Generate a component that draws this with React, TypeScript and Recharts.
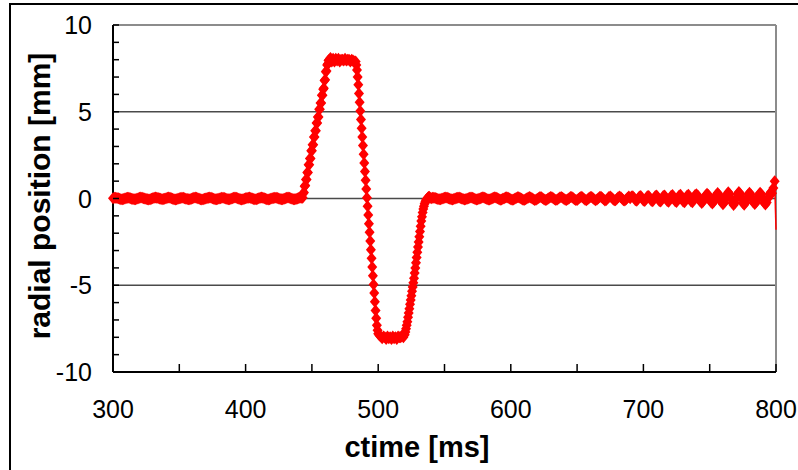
import { ScatterChart, Scatter, XAxis, YAxis, ReferenceLine, Label } from "recharts";

// sampled radial position, grouped by segment of the trace (start time, sample step in ms)
const leadStart = 300;
const leadStep = 1;
const leadValues = [
  0.02, 0.04, 0.05, 0.03, 0.01, -0.02, -0.04, -0.05, -0.03, 0.0,
  0.03, 0.05, 0.04, 0.02, -0.01, -0.03, -0.05, -0.04, -0.02, 0.01,
  0.04, 0.06, 0.05, 0.02, 0.0, -0.03, -0.05, -0.06, -0.04, -0.01,
  0.02, 0.04, 0.06, 0.05, 0.03, 0.0, -0.02, -0.04, -0.03, -0.01,
  0.02, 0.05, 0.06, 0.04, 0.01, -0.02, -0.05, -0.06, -0.04, -0.01,
  0.01, 0.03, 0.05, 0.04, 0.02, -0.01, -0.03, -0.05, -0.04, -0.02,
  0.01, 0.04, 0.06, 0.05, 0.02, -0.01, -0.04, -0.06, -0.05, -0.02,
  0.0, 0.03, 0.05, 0.06, 0.04, 0.01, -0.02, -0.04, -0.05, -0.03,
  0.0, 0.02, 0.04, 0.05, 0.03, 0.0, -0.03, -0.05, -0.04, -0.02,
  0.01, 0.04, 0.06, 0.04, 0.02, -0.01, -0.04, -0.06, -0.05, -0.02,
  0.01, 0.03, 0.05, 0.06, 0.03, 0.0, -0.03, -0.05, -0.04, -0.01,
  0.02, 0.05, 0.06, 0.04, 0.01, -0.02, -0.04, -0.06, -0.04, -0.02,
  0.01, 0.03, 0.05, 0.05, 0.03, 0.0, -0.03, -0.05, -0.05, -0.02,
  0.01, 0.04, 0.06, 0.04, 0.02, -0.01, -0.04, -0.05, -0.03, 0.0,
  0.03, 0.05, 0.04,
];

const riseStart = 443;
const riseStep = 0.5;
const riseValues = [
  0.05, 0.3, 0.35, 0.7, 0.75, 1.1, 1.1, 1.5,
  1.5, 1.95, 1.95, 2.3, 2.3, 2.75, 2.75, 3.1,
  3.1, 3.55, 3.55, 3.9, 3.9, 4.35, 4.35, 4.7,
  4.7, 5.15, 5.15, 5.5, 5.5, 5.95, 5.95, 6.3,
  6.35, 6.8, 6.85, 7.3, 7.35, 7.7, 7.75, 7.95,
  8.0,
];

const topStart = 464;
const topStep = 1;
const topValues = [
  8.1, 7.9, 8.05, 7.9, 8.05, 7.95, 8.05, 7.9, 8.0, 8.0,
  7.95, 8.05, 7.95, 8.0, 8.0, 7.9, 8.0, 7.95, 7.9,
];

const fallStart = 483;
const fallStep = 0.5;
const fallValues = [
  7.9, 7.7, 7.4, 7.0, 6.55, 6.05, 5.55, 5.05,
  4.55, 4.05, 3.55, 3.05, 2.55, 2.05, 1.55, 1.05,
  0.55, 0.05, -0.45, -0.95, -1.45, -1.95, -2.45, -2.95,
  -3.45, -3.95, -4.45, -4.95, -5.45, -5.95, -6.45, -6.9,
  -7.3, -7.6, -7.8,
];

const bottomStart = 501;
const bottomStep = 1;
const bottomValues = [
  -7.9, -7.95, -8.05, -7.95, -8.0, -8.1, -7.95, -8.05, -8.0, -8.1,
  -7.95, -8.05, -8.0, -8.1, -7.95, -8.0, -8.0, -7.9, -8.0, -7.85,
];

const returnStart = 520.5;
const returnStep = 0.5;
const returnValues = [
  -7.7, -7.5, -7.3, -7.1, -6.85, -6.6, -6.35, -6.1,
  -5.85, -5.6, -5.35, -5.1, -4.85, -4.6, -4.3, -4.0,
  -3.7, -3.4, -3.1, -2.8, -2.5, -2.2, -1.9, -1.6,
  -1.3, -1.05, -0.8, -0.6, -0.45, -0.3, -0.2, -0.1,
  -0.05, 0.0, 0.05, 0.08, 0.1, 0.05,
];

// baseline after the pulse; the ripple grows toward the end of the record
const tailStart = 540;
const tailStep = 1;
const tailValues = [
  0.02, 0.04, 0.05, 0.03, 0.0, -0.03, -0.05, -0.04, -0.02, 0.01,
  0.04, 0.06, 0.04, 0.01, -0.02, -0.05, -0.06, -0.03, 0.0, 0.03,
  0.05, 0.06, 0.03, 0.0, -0.03, -0.06, -0.05, -0.02, 0.02, 0.05,
  0.06, 0.04, 0.01, -0.03, -0.06, -0.05, -0.02, 0.02, 0.05, 0.07,
  0.05, 0.01, -0.03, -0.06, -0.06, -0.03, 0.01, 0.05, 0.07, 0.05,
  0.01, -0.03, -0.07, -0.06, -0.02, 0.02, 0.06, 0.07, 0.04, 0.0,
  -0.04, -0.07, -0.06, -0.02, 0.03, 0.07, 0.07, 0.03, -0.02, -0.06,
  -0.08, -0.05, 0.0, 0.05, 0.08, 0.06, 0.01, -0.04, -0.08, -0.07,
  -0.02, 0.03, 0.08, 0.07, 0.02, -0.04, -0.08, -0.07, -0.02, 0.04,
  0.08, 0.07, 0.01, -0.05, -0.09, -0.06, 0.0, 0.06, 0.09, 0.05,
  -0.01, -0.07, -0.09, -0.05, 0.02, 0.08, 0.09, 0.03, -0.04, -0.09,
  -0.08, -0.02, 0.05, 0.1, 0.07, 0.0, -0.07, -0.1, -0.05, 0.03,
  0.09, 0.09, 0.02, -0.06, -0.1, -0.06, 0.02, 0.09, 0.1, 0.03,
  -0.05, -0.11, -0.08, 0.0, 0.08, 0.11, 0.06, -0.03, -0.1, -0.1,
  -0.02, 0.07, 0.12, 0.07, -0.02, -0.1, -0.12, -0.05, 0.05, 0.12,
  0.02, 0.11, 0.13, 0.03, -0.1, -0.13, -0.02, 0.12, 0.14, 0.02,
  -0.12, -0.15, -0.03, 0.13, 0.15, 0.03, -0.13, -0.16, -0.02, 0.14,
  0.17, 0.04, -0.14, -0.17, -0.03, 0.15, 0.18, 0.03, -0.15, -0.19,
  -0.04, 0.16, 0.2, 0.04, -0.16, -0.2, -0.03, 0.17, 0.21, 0.03,
  -0.18, -0.21, -0.04, 0.18, 0.22, 0.04, -0.18, -0.22, -0.03, 0.2,
  0.24, 0.18, 0.0, -0.18, -0.26, -0.18, 0.01, 0.19, 0.27, 0.2,
  0.0, -0.2, -0.29, -0.2, 0.02, 0.22, 0.31, 0.22, 0.0, -0.22,
  -0.33, -0.23, 0.01, 0.25, 0.36, 0.26, 0.02, -0.25, -0.37, -0.26,
  0.0, 0.26, 0.38, 0.27, 0.01, -0.26, -0.36, -0.24, 0.0, 0.23,
  0.33, 0.23, -0.01, -0.23, -0.32, -0.22, 0.0, 0.22, 0.33, 0.24,
  0.01, -0.24, -0.34, -0.23, 0.02, 0.25, 0.36, 0.3,
];

const edgeTimes = [798, 799];
const edgeValues = [0.6, 1.0];

// last sample has no marker, only the connecting line
const dropTimes = [799, 800];
const dropValues = [1.0, -1.8];

const xTicks = [300, 350, 400, 450, 500, 550, 600, 650, 700, 750, 800];
const yTicks = [-10, -9, -8, -7, -6, -5, -4, -3, -2, -1, 0, 1, 2, 3, 4, 5, 6, 7, 8, 9, 10];
const gridValues = [-5, 0, 5];

const segment = (start: number, step: number, values: number[]) =>
  values.map((v, i) => ({ t: start + i * step, v }));

const points = [
  ...segment(leadStart, leadStep, leadValues),
  ...segment(riseStart, riseStep, riseValues),
  ...segment(topStart, topStep, topValues),
  ...segment(fallStart, fallStep, fallValues),
  ...segment(bottomStart, bottomStep, bottomValues),
  ...segment(returnStart, returnStep, returnValues),
  ...segment(tailStart, tailStep, tailValues),
  ...edgeTimes.map((t, i) => ({ t, v: edgeValues[i] })),
];

const dropPoints = dropTimes.map((t, i) => ({ t, v: dropValues[i] }));

const FONT = "'Liberation Sans', Arial, sans-serif";
const RED = "#ff0000";

const Diamond = (props: any) => {
  const { cx, cy } = props;
  if (cx == null || cy == null) return null;
  return (
    <polygon
      points={`${cx},${cy - 6} ${cx + 5},${cy} ${cx},${cy + 6} ${cx - 5},${cy}`}
      fill={RED}
    />
  );
};

const NoMarker = () => <g />;

const XTick = (props: any) => {
  const { x, y, payload } = props;
  return (
    <g>
      <line x1={x} y1={y} x2={x} y2={y - 8} stroke="#000" strokeWidth={1.5} />
      {payload.value % 100 === 0 && (
        <text x={x} y={y + 46} textAnchor="middle" fontSize={25} fontFamily={FONT} fill="#000">
          {payload.value}
        </text>
      )}
    </g>
  );
};

const YTick = (props: any) => {
  const { x, y, payload } = props;
  return (
    <g>
      <line x1={x} y1={y} x2={x + 6} y2={y} stroke="#000" strokeWidth={1.5} />
      {payload.value % 5 === 0 && (
        <text x={x - 21} y={y + 9} textAnchor="end" fontSize={25} fontFamily={FONT} fill="#000">
          {payload.value}
        </text>
      )}
    </g>
  );
};

export default function App() {
  return (
    <div style={{ position: "fixed", left: 0, top: 0, width: 798, height: 470, background: "#fff" }}>
      <div
        style={{
          position: "absolute",
          left: 9,
          top: 3,
          width: 800,
          height: 480,
          borderTop: "2px solid #000",
          borderLeft: "2px solid #000",
        }}
      />
      <div style={{ position: "absolute", left: 0, top: 0 }}>
        <ScatterChart width={798} height={470} margin={{ top: 25, right: 22, bottom: 8, left: 10 }}>
          <XAxis
            type="number"
            dataKey="t"
            domain={[300, 800]}
            ticks={xTicks}
            interval={0}
            height={90}
            tickSize={0}
            tickMargin={0}
            tick={<XTick />}
            axisLine={{ stroke: "#000", strokeWidth: 2 }}
          >
            <Label
              content={() => (
                <text x={417} y={457} textAnchor="middle" fontSize={29} fontWeight="bold" fontFamily={FONT} fill="#000">
                  ctime [ms]
                </text>
              )}
            />
          </XAxis>
          <YAxis
            type="number"
            dataKey="v"
            domain={[-10, 10]}
            ticks={yTicks}
            interval={0}
            width={103}
            tickSize={0}
            tickMargin={0}
            tick={<YTick />}
            axisLine={{ stroke: "#000", strokeWidth: 2 }}
          >
            <Label
              content={() => (
                <text
                  x={50}
                  y={196}
                  transform="rotate(-90 50 196)"
                  textAnchor="middle"
                  fontSize={30}
                  fontWeight="bold"
                  fontFamily={FONT}
                  fill="#000"
                >
                  radial position [mm]
                </text>
              )}
            />
          </YAxis>
          {gridValues.map((v) => (
            <ReferenceLine key={v} y={v} stroke="#4a4a4a" strokeWidth={1.5} />
          ))}
          <ReferenceLine y={10} stroke="#8c8c8c" strokeWidth={2} />
          <ReferenceLine x={800} stroke="#8c8c8c" strokeWidth={2} />
          <Scatter data={points} fill={RED} shape={Diamond} isAnimationActive={false} />
          <Scatter
            data={dropPoints}
            fill={RED}
            shape={NoMarker}
            line={{ stroke: RED, strokeWidth: 1.5 }}
            isAnimationActive={false}
          />
        </ScatterChart>
      </div>
    </div>
  );
}
